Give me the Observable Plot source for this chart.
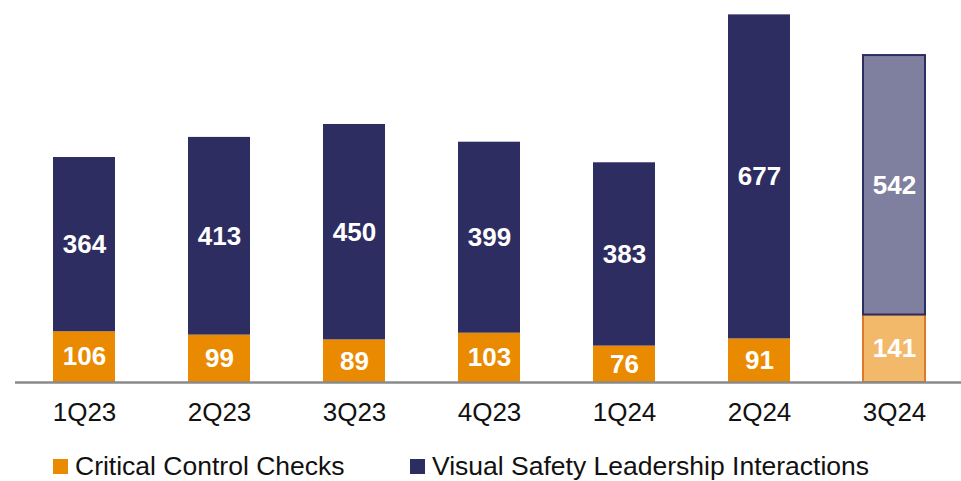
<!DOCTYPE html>
<html>
<head>
<meta charset="utf-8">
<script src="https://cdn.jsdelivr.net/npm/d3@7"></script>
<script src="https://cdn.jsdelivr.net/npm/@observablehq/plot@0.6"></script>
<style>
  html, body { margin: 0; padding: 0; background: #fff; }
  body { width: 961px; height: 481px; overflow: hidden; font-family: "Liberation Sans", Arial, sans-serif; }
  #legend { position: relative; height: 41px; }
  .item { position: absolute; top: 11px; display: flex; align-items: center; font-size: 26.5px; color: #111; line-height: 30px; }
  .sw { width: 15px; height: 15px; margin-right: 7px; display: inline-block; }
</style>
</head>
<body>
<div id="chart"></div>
<div id="legend">
  <div class="item" style="left:53px"><span class="sw" style="background:#EA8A00"></span>Critical Control Checks</div>
  <div class="item" style="left:410px"><span class="sw" style="background:#2E2D62"></span>Visual Safety Leadership Interactions</div>
</div>
<script>
const quarters = ["1Q23", "2Q23", "3Q23", "4Q23", "1Q24", "2Q24", "3Q24"];
const critical = [106, 99, 89, 103, 76, 91, 141];
const visual = [364, 413, 450, 399, 383, 677, 542];
const seriesNames = ["Critical Control Checks", "Visual Safety Leadership Interactions"];

const fills = {
  "Critical Control Checks": ["#EA8A00", "#F3B96B"],
  "Visual Safety Leadership Interactions": ["#2E2D62", "#7F7FA0"]
};
const strokes = {
  "Critical Control Checks": ["none", "#E0782A"],
  "Visual Safety Leadership Interactions": ["none", "#2E2D62"]
};

const rows = [];
quarters.forEach((q, i) => {
  rows.push({quarter: q, series: seriesNames[0], value: critical[i], hi: i === quarters.length - 1 ? 1 : 0});
  rows.push({quarter: q, series: seriesNames[1], value: visual[i], hi: i === quarters.length - 1 ? 1 : 0});
});

const chart = Plot.plot({
  width: 961,
  height: 440,
  marginTop: 0,
  marginLeft: 15,
  marginRight: 0,
  marginBottom: 58,
  style: {fontFamily: "'Liberation Sans', Arial, sans-serif", background: "#fff"},
  x: {domain: quarters, range: [15, 964], paddingInner: 0.54, paddingOuter: 0.27, label: null, tickSize: 0, tickPadding: 20},
  y: {domain: [0, 798], axis: null},
  color: {type: "identity"},
  marks: [
    Plot.barY(rows, Plot.stackY({
      x: "quarter", y: "value", z: "series", order: null,
      fill: d => fills[d.series][d.hi],
      stroke: d => strokes[d.series][d.hi],
      strokeWidth: 2,
      inset: 0
    })),
    Plot.ruleY([0], {stroke: "#8a8a8a", strokeWidth: 2.5}),
    Plot.text(rows, Plot.stackY({
      x: "quarter", y: "value", z: "series", order: null,
      text: d => String(d.value),
      fill: "#fff", fontWeight: "bold", fontSize: 26
    })),
    Plot.axisX({fontSize: 26, tickSize: 0, tickPadding: 20, fill: "#111", label: null})
  ]
});
document.getElementById("chart").appendChild(chart);
</script>
</body>
</html>
